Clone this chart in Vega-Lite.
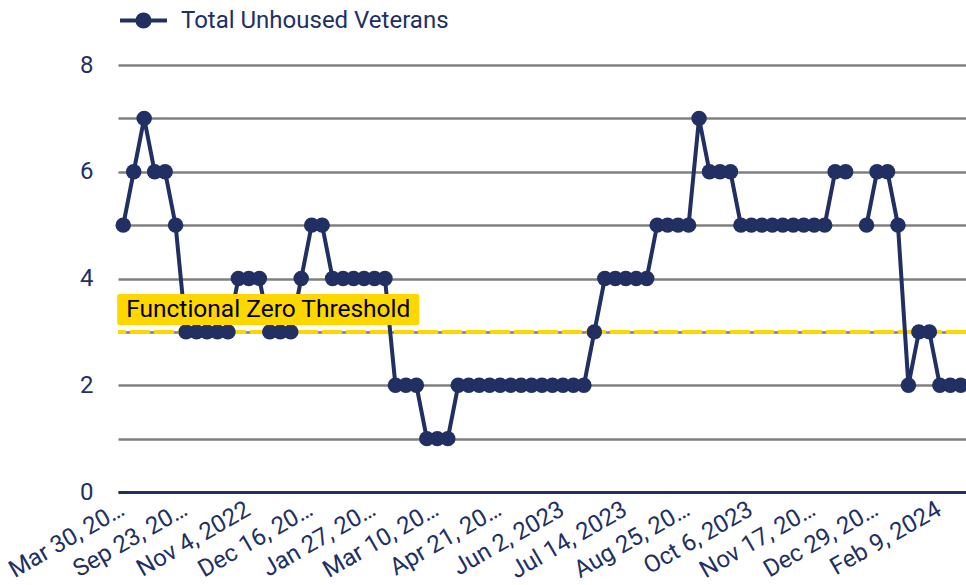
{
  "$schema": "https://vega.github.io/schema/vega-lite/v6.json",
  "autosize": "none",
  "width": 848,
  "height": 427,
  "padding": {"left": 118, "top": 65, "right": 0, "bottom": 93},
  "background": "white",
  "config": {
    "font": "Roboto",
    "view": {"stroke": null}
  },
  "datasets": {
    "main": [
      {"date": "Mar 30, 2022", "value": 5, "series": "Total Unhoused Veterans"},
      {"date": "Aug 19, 2022", "value": 6, "series": "Total Unhoused Veterans"},
      {"date": "Aug 26, 2022", "value": 7, "series": "Total Unhoused Veterans"},
      {"date": "Sep 2, 2022", "value": 6, "series": "Total Unhoused Veterans"},
      {"date": "Sep 9, 2022", "value": 6, "series": "Total Unhoused Veterans"},
      {"date": "Sep 16, 2022", "value": 5, "series": "Total Unhoused Veterans"},
      {"date": "Sep 23, 2022", "value": 3, "series": "Total Unhoused Veterans"},
      {"date": "Sep 30, 2022", "value": 3, "series": "Total Unhoused Veterans"},
      {"date": "Oct 7, 2022", "value": 3, "series": "Total Unhoused Veterans"},
      {"date": "Oct 14, 2022", "value": 3, "series": "Total Unhoused Veterans"},
      {"date": "Oct 21, 2022", "value": 3, "series": "Total Unhoused Veterans"},
      {"date": "Oct 28, 2022", "value": 4, "series": "Total Unhoused Veterans"},
      {"date": "Nov 4, 2022", "value": 4, "series": "Total Unhoused Veterans"},
      {"date": "Nov 11, 2022", "value": 4, "series": "Total Unhoused Veterans"},
      {"date": "Nov 18, 2022", "value": 3, "series": "Total Unhoused Veterans"},
      {"date": "Nov 25, 2022", "value": 3, "series": "Total Unhoused Veterans"},
      {"date": "Dec 2, 2022", "value": 3, "series": "Total Unhoused Veterans"},
      {"date": "Dec 9, 2022", "value": 4, "series": "Total Unhoused Veterans"},
      {"date": "Dec 16, 2022", "value": 5, "series": "Total Unhoused Veterans"},
      {"date": "Dec 23, 2022", "value": 5, "series": "Total Unhoused Veterans"},
      {"date": "Dec 30, 2022", "value": 4, "series": "Total Unhoused Veterans"},
      {"date": "Jan 6, 2023", "value": 4, "series": "Total Unhoused Veterans"},
      {"date": "Jan 13, 2023", "value": 4, "series": "Total Unhoused Veterans"},
      {"date": "Jan 20, 2023", "value": 4, "series": "Total Unhoused Veterans"},
      {"date": "Jan 27, 2023", "value": 4, "series": "Total Unhoused Veterans"},
      {"date": "Feb 3, 2023", "value": 4, "series": "Total Unhoused Veterans"},
      {"date": "Feb 10, 2023", "value": 2, "series": "Total Unhoused Veterans"},
      {"date": "Feb 17, 2023", "value": 2, "series": "Total Unhoused Veterans"},
      {"date": "Feb 24, 2023", "value": 2, "series": "Total Unhoused Veterans"},
      {"date": "Mar 3, 2023", "value": 1, "series": "Total Unhoused Veterans"},
      {"date": "Mar 10, 2023", "value": 1, "series": "Total Unhoused Veterans"},
      {"date": "Mar 17, 2023", "value": 1, "series": "Total Unhoused Veterans"},
      {"date": "Mar 24, 2023", "value": 2, "series": "Total Unhoused Veterans"},
      {"date": "Mar 31, 2023", "value": 2, "series": "Total Unhoused Veterans"},
      {"date": "Apr 7, 2023", "value": 2, "series": "Total Unhoused Veterans"},
      {"date": "Apr 14, 2023", "value": 2, "series": "Total Unhoused Veterans"},
      {"date": "Apr 21, 2023", "value": 2, "series": "Total Unhoused Veterans"},
      {"date": "Apr 28, 2023", "value": 2, "series": "Total Unhoused Veterans"},
      {"date": "May 5, 2023", "value": 2, "series": "Total Unhoused Veterans"},
      {"date": "May 12, 2023", "value": 2, "series": "Total Unhoused Veterans"},
      {"date": "May 19, 2023", "value": 2, "series": "Total Unhoused Veterans"},
      {"date": "May 26, 2023", "value": 2, "series": "Total Unhoused Veterans"},
      {"date": "Jun 2, 2023", "value": 2, "series": "Total Unhoused Veterans"},
      {"date": "Jun 9, 2023", "value": 2, "series": "Total Unhoused Veterans"},
      {"date": "Jun 16, 2023", "value": 2, "series": "Total Unhoused Veterans"},
      {"date": "Jun 23, 2023", "value": 3, "series": "Total Unhoused Veterans"},
      {"date": "Jun 30, 2023", "value": 4, "series": "Total Unhoused Veterans"},
      {"date": "Jul 7, 2023", "value": 4, "series": "Total Unhoused Veterans"},
      {"date": "Jul 14, 2023", "value": 4, "series": "Total Unhoused Veterans"},
      {"date": "Jul 21, 2023", "value": 4, "series": "Total Unhoused Veterans"},
      {"date": "Jul 28, 2023", "value": 4, "series": "Total Unhoused Veterans"},
      {"date": "Aug 4, 2023", "value": 5, "series": "Total Unhoused Veterans"},
      {"date": "Aug 11, 2023", "value": 5, "series": "Total Unhoused Veterans"},
      {"date": "Aug 18, 2023", "value": 5, "series": "Total Unhoused Veterans"},
      {"date": "Aug 25, 2023", "value": 5, "series": "Total Unhoused Veterans"},
      {"date": "Sep 1, 2023", "value": 7, "series": "Total Unhoused Veterans"},
      {"date": "Sep 8, 2023", "value": 6, "series": "Total Unhoused Veterans"},
      {"date": "Sep 15, 2023", "value": 6, "series": "Total Unhoused Veterans"},
      {"date": "Sep 22, 2023", "value": 6, "series": "Total Unhoused Veterans"},
      {"date": "Sep 29, 2023", "value": 5, "series": "Total Unhoused Veterans"},
      {"date": "Oct 6, 2023", "value": 5, "series": "Total Unhoused Veterans"},
      {"date": "Oct 13, 2023", "value": 5, "series": "Total Unhoused Veterans"},
      {"date": "Oct 20, 2023", "value": 5, "series": "Total Unhoused Veterans"},
      {"date": "Oct 27, 2023", "value": 5, "series": "Total Unhoused Veterans"},
      {"date": "Nov 3, 2023", "value": 5, "series": "Total Unhoused Veterans"},
      {"date": "Nov 10, 2023", "value": 5, "series": "Total Unhoused Veterans"},
      {"date": "Nov 17, 2023", "value": 5, "series": "Total Unhoused Veterans"},
      {"date": "Nov 24, 2023", "value": 5, "series": "Total Unhoused Veterans"},
      {"date": "Dec 1, 2023", "value": 6, "series": "Total Unhoused Veterans"},
      {"date": "Dec 8, 2023", "value": 6, "series": "Total Unhoused Veterans"},
      {"date": "Dec 15, 2023", "value": null, "series": "Total Unhoused Veterans"},
      {"date": "Dec 22, 2023", "value": 5, "series": "Total Unhoused Veterans"},
      {"date": "Dec 29, 2023", "value": 6, "series": "Total Unhoused Veterans"},
      {"date": "Jan 5, 2024", "value": 6, "series": "Total Unhoused Veterans"},
      {"date": "Jan 12, 2024", "value": 5, "series": "Total Unhoused Veterans"},
      {"date": "Jan 19, 2024", "value": 2, "series": "Total Unhoused Veterans"},
      {"date": "Jan 26, 2024", "value": 3, "series": "Total Unhoused Veterans"},
      {"date": "Feb 2, 2024", "value": 3, "series": "Total Unhoused Veterans"},
      {"date": "Feb 9, 2024", "value": 2, "series": "Total Unhoused Veterans"},
      {"date": "Feb 16, 2024", "value": 2, "series": "Total Unhoused Veterans"},
      {"date": "Feb 23, 2024", "value": 2, "series": "Total Unhoused Veterans"}
    ],
    "threshold": [
      {"value": 3, "label": "Functional Zero Threshold"}
    ]
  },
  "layer": [
    {
      "data": {"name": "threshold"},
      "mark": {"type": "rule", "color": "#FFD700", "strokeWidth": 4, "strokeDash": [20, 4]},
      "encoding": {
        "y": {"field": "value", "type": "quantitative"}
      }
    },
    {
      "data": {"name": "main"},
      "mark": {"type": "line", "strokeWidth": 4, "invalid": "break-paths-show-domains"},
      "encoding": {
        "x": {
          "field": "date", "type": "ordinal", "sort": null,
          "scale": {"type": "point", "padding": 0.5},
          "axis": {
            "title": null,
            "values": ["Mar 30, 2022", "Sep 23, 2022", "Nov 4, 2022", "Dec 16, 2022", "Jan 27, 2023", "Mar 10, 2023", "Apr 21, 2023", "Jun 2, 2023", "Jul 14, 2023", "Aug 25, 2023", "Oct 6, 2023", "Nov 17, 2023", "Dec 29, 2023", "Feb 9, 2024"],
            "labelAngle": -30,
            "labelFontSize": 24,
            "labelColor": "#222F62",
            "labelLimit": 133,
            "labelOffset": -7,
            "ticks": false,
            "grid": false,
            "domain": true,
            "domainColor": "#222F62",
            "domainWidth": 3,
            "labelPadding": 5
          }
        },
        "y": {
          "field": "value", "type": "quantitative",
          "scale": {"domain": [0, 8], "nice": false},
          "axis": {
            "title": null,
            "values": [0, 1, 2, 3, 4, 5, 6, 7, 8],
            "labelExpr": "datum.value % 2 === 0 ? datum.label : ''",
            "labelFontSize": 24,
            "labelColor": "#222F62",
            "labelPadding": 25,
            "ticks": false,
            "domain": false,
            "grid": true,
            "gridColor": "#808080",
            "gridWidth": 2.5
          }
        },
        "color": {
          "field": "series", "type": "nominal",
          "scale": {"range": ["#222F62"]},
          "legend": {
            "title": null,
            "orient": "none",
            "legendX": 0,
            "legendY": -70,
            "padding": 0,
            "symbolType": "M-1,0L1,0M0.26,0A0.26,0.26,0,1,1,-0.26,0A0.26,0.26,0,1,1,0.26,0Z",
            "symbolSize": 2209,
            "symbolStrokeWidth": 4,
            "labelFontSize": 24,
            "labelLimit": 500,
            "labelColor": "#222F62",
            "labelOffset": 12,
            "encode": {"symbols": {"update": {"fill": {"value": "#222F62"}, "stroke": {"value": "#222F62"}, "opacity": {"value": 1}}}}
          }
        }
      }
    },
    {
      "data": {"name": "main"},
      "mark": {"type": "point", "filled": true, "size": 240, "opacity": 1},
      "encoding": {
        "x": {"field": "date", "type": "ordinal", "sort": null},
        "y": {"field": "value", "type": "quantitative"},
        "color": {"field": "series", "type": "nominal"}
      }
    },
    {
      "data": {"name": "threshold"},
      "mark": {"type": "rect", "color": "#FFD700", "cornerRadius": 2, "xOffset": -6, "x2Offset": 3, "yOffset": -7, "y2Offset": -38},
      "encoding": {
        "x": {"datum": "Mar 30, 2022", "type": "ordinal"},
        "x2": {"datum": "Feb 24, 2023"},
        "y": {"field": "value", "type": "quantitative"},
        "y2": {"field": "value"}
      }
    },
    {
      "data": {"name": "threshold"},
      "mark": {"type": "text", "color": "black", "fontSize": 24.5, "align": "left", "baseline": "middle", "xOffset": 3, "yOffset": -22},
      "encoding": {
        "x": {"datum": "Mar 30, 2022", "type": "ordinal"},
        "y": {"field": "value", "type": "quantitative"},
        "text": {"field": "label"}
      }
    }
  ]
}
